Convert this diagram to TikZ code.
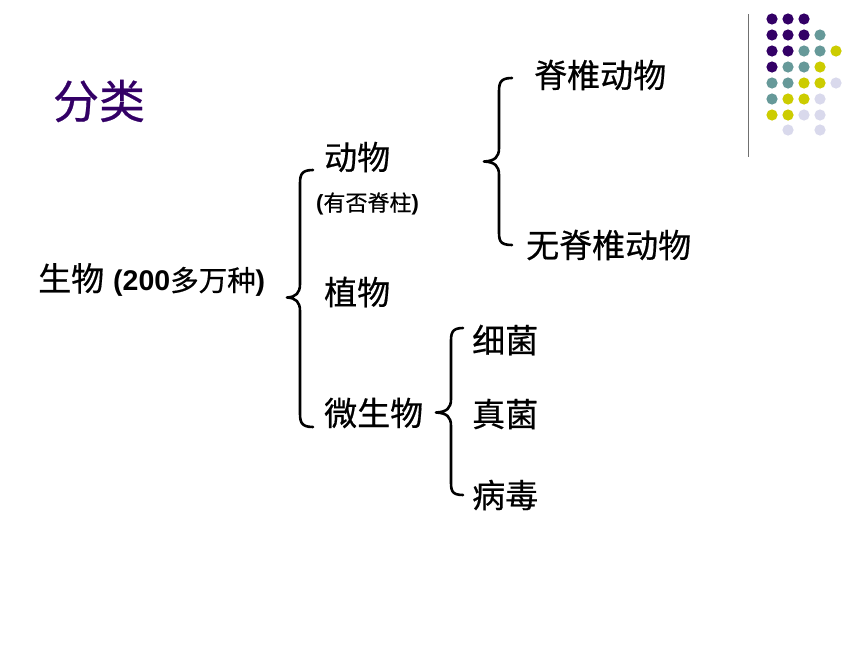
\documentclass[tikz,border=0pt]{standalone}
\usepackage{fontspec}
\setmainfont{Liberation Sans}
\newfontfamily\cjk[FakeBold=0.5]{Noto Sans CJK SC}
\definecolor{dpurple}{HTML}{330066}
\definecolor{dteal}{HTML}{669999}
\definecolor{dyellow}{HTML}{CCCC00}
\definecolor{dlav}{HTML}{D9D9EC}
\definecolor{vline}{HTML}{707070}
\begin{document}
\begin{tikzpicture}[x=1pt,y=-1pt,
  lbl/.style={inner sep=0pt,anchor=west,font=\fontsize{33}{36}\selectfont\cjk},
  brc/.style={line width=2.6pt,line cap=round,line join=round,black},
  dot/.style={radius=5.6}]
\useasboundingbox (0,0) rectangle (860,645);
\fill[white] (0,0) rectangle (860,645);
% decoration
\draw[vline,line width=1.5pt] (748.5,14) -- (748.5,157);
\foreach \c/\x/\y in {dpurple/772/19,dpurple/788/19,dpurple/804/19,
  dpurple/772/35,dpurple/788/35,dpurple/804/35,dteal/820/35,
  dpurple/772/51,dpurple/788/51,dteal/804/51,dteal/820/51,dyellow/836/51,
  dpurple/772/67,dteal/788/67,dteal/804/67,dyellow/820/67,
  dteal/772/83,dteal/788/83,dyellow/804/83,dyellow/820/83,dlav/836/83,
  dteal/772/99,dyellow/788/99,dyellow/804/99,dlav/820/99,
  dyellow/772/115,dyellow/788/115,dlav/804/115,dlav/820/115,
  dlav/788/130,dlav/820/130}
  \fill[\c] (\x,\y) circle[dot];
% title
\node[inner sep=0pt,text=dpurple,font=\fontsize{46}{50}\selectfont\cjk] (title) at (99,101) {分类};
% labels
\node[inner sep=0pt,anchor=west] (root) at (38,280) {{\fontsize{33}{36}\selectfont\cjk 生物}\hspace{9pt}{\fontsize{28.5}{30}\selectfont\bfseries(200{\cjk\mdseries 多万种})}};
\node[lbl] (animal) at (324,157) {动物};
\node[inner sep=0pt,anchor=west] (note) at (316,204) {{\fontsize{22}{24}\selectfont\bfseries(}{\fontsize{22}{24}\selectfont\cjk 有否脊柱}{\fontsize{22}{24}\selectfont\bfseries)}};
\node[lbl] (plant) at (324,292) {植物};
\node[lbl] (micro) at (324,413) {微生物};
\node[lbl] (vert) at (534,75) {脊椎动物};
\node[lbl] (invert) at (526,245) {无脊椎动物};
\node[lbl] (bact) at (472,340) {细菌};
\node[lbl] (fungi) at (472,414) {真菌};
\node[lbl] (virus) at (472,495) {病毒};
% braces
\draw[brc] (313,170) .. controls (300,170) and (300,176) .. (300,186)
  -- (300,284) .. controls (300,293) and (296,297) .. (287,297.5)
  .. controls (296,298) and (300,302) .. (300,311)
  -- (300,411) .. controls (300,421) and (300,427) .. (313,427);
\draw[brc] (512,78) .. controls (499,78) and (499,84) .. (499,94)
  -- (499,148) .. controls (499,157) and (495,161) .. (484,161.5)
  .. controls (495,162) and (499,166) .. (499,175)
  -- (499,230) .. controls (499,240) and (499,245) .. (512,245);
\draw[brc] (463,328) .. controls (451,328) and (451,334) .. (451,343)
  -- (451,399) .. controls (451,408) and (447,412) .. (436,412.5)
  .. controls (447,413) and (451,417) .. (451,426)
  -- (451,480) .. controls (451,490) and (451,495) .. (463,495);
\end{tikzpicture}
\end{document}
